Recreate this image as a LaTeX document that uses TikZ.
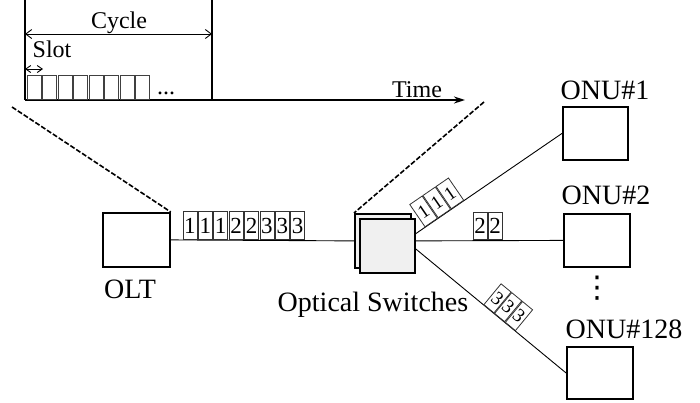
\documentclass[tikz,border=0pt]{standalone}
\usepackage{fontspec}
\setmainfont{Liberation Serif}
\newfontfamily\dvfont{DejaVu Sans}
\usetikzlibrary{arrows.meta,calc}
\begin{document}
\begin{tikzpicture}[x=1pt,y=-1pt,
  lbl/.style={inner sep=0pt, anchor=base, font=\fontsize{28}{32}\selectfont},
  tlbl/.style={inner sep=0pt, anchor=base, font=\fontsize{24}{28}\selectfont},
  pkt/.style={draw=black!80, line width=0.8pt, inner sep=0pt, minimum width=14pt, minimum height=28pt, font=\fontsize{23}{26}\selectfont},
  spkt/.style={pkt, minimum width=14pt, minimum height=27pt, sloped, anchor=south, font=\fontsize{19}{22}\selectfont},
  slotbox/.style={draw=black!75, line width=1pt, inner sep=0pt, minimum width=14pt, minimum height=24pt, anchor=south west},
  unit/.style={draw, line width=1.8pt, inner sep=0pt, anchor=north west},
  sw/.style={unit, fill=black!6},
  conn/.style={line width=0.9pt},
  zoomline/.style={line width=1.6pt, dash pattern=on 5pt off 2pt},
  thick axis/.style={line width=1.8pt}]
\useasboundingbox (0,0) rectangle (700,402);

% ---- time diagram ----
\coordinate (t0) at (25,100);
\coordinate (t1) at (465,100);
\coordinate (c0) at (25,0);
\coordinate (c1) at (212,0);
\coordinate (c1b) at (212,100);
\draw[thick axis] (c0) -- (t0);
\draw[thick axis] (c1) -- (c1b);
\draw[thick axis, -{Stealth[length=11pt,width=7pt]}] (t0) -- (t1);
\coordinate (ca) at (25,34);
\coordinate (cb) at (212,34);
\draw[conn, {Straight Barb[length=6pt,width=9pt]}-{Straight Barb[length=6pt,width=9pt]}] (ca) -- (cb);
\coordinate (sa) at (25,69);
\coordinate (sb) at (43,69);
\draw[conn, {Straight Barb[length=5pt,width=7pt]}-{Straight Barb[length=5pt,width=7pt]}] (sa) -- (sb);
\node[tlbl] (cyc) at (119,28) {Cycle};
\node[tlbl] (slt) at (52,57) {Slot};
\node[tlbl] (tim) at (417,97) {Time};
\foreach \i in {0,...,7} {
  \node[slotbox] (sl\i) at ({26.5+15.5*\i},100) {};
}
\node[tlbl, anchor=base] (dts) at (166,94) {...};

% ---- network ----
\node[unit, minimum width=67pt, minimum height=54pt] (olt) at (102,212) {};
\node[lbl] (oltl) at (130,298) {OLT};
\node[sw, minimum width=56pt, minimum height=54pt] (swb) at (354,213) {};
\node[sw, minimum width=55pt, minimum height=54pt] (swf) at (359,218) {};
\node[lbl] (swl) at (373,311) {Optical Switches};

\node[unit, minimum width=65pt, minimum height=53pt] (onu1) at (562,106) {};
\node[unit, minimum width=66pt, minimum height=53pt] (onu2) at (563,213) {};
\node[unit, minimum width=66pt, minimum height=52pt] (onu128) at (566,346) {};
\node[lbl] (l1) at (605,99) {ONU\#1};
\node[lbl] (l2) at (606,204) {ONU\#2};
\node[lbl] (l128) at (624,338) {ONU\#128};
\node[inner sep=0pt, font=\dvfont\fontsize{30}{32}\selectfont] (vd) at (597,288) {⋮};

% zoom dashed lines
\coordinate (zl) at (12,107);
\coordinate (zr) at (484,102);
\draw[zoomline] (zl) -- (olt.north east);
\draw[zoomline] (zr) -- (swb.north west);

% main fibre
\draw[conn] (olt.east) -- (swb.west);
\foreach \d [count=\i from 0] in {1,1,1,2,2,3,3,3} {
  \node[pkt, anchor=south west] (p\i) at ({182.5+15.4*\i},240) {\d};
}

% branches
\coordinate (s1) at ($(swf.north east)!0.28!(swf.south east)$);
\coordinate (s2) at ($(swf.north east)!0.41!(swf.south east)$);
\coordinate (s3) at ($(swf.north east)!0.555!(swf.south east)$);
\draw[conn] (s1) -- (onu1.west)
  node[spkt, pos=0.107, minimum width=15pt] (a1) {1}
  node[spkt, pos=0.197, minimum width=15pt] (a2) {1}
  node[spkt, pos=0.287, minimum width=15pt] (a3) {1};
\draw[conn] (s2) -- (onu2.west);
\node[pkt, anchor=south west, minimum width=13.5pt, minimum height=27pt] (b1) at (473,240) {2};
\node[pkt, anchor=south west, minimum width=13.5pt, minimum height=27pt] (b2) at (488,240) {2};
\draw[conn] (s3) -- (onu128.west)
  node[spkt, pos=0.485, minimum width=13pt] (c1n) {3}
  node[spkt, pos=0.556, minimum width=13pt] (c2n) {3}
  node[spkt, pos=0.628, minimum width=13pt] (c3n) {3};
\end{tikzpicture}
\end{document}
